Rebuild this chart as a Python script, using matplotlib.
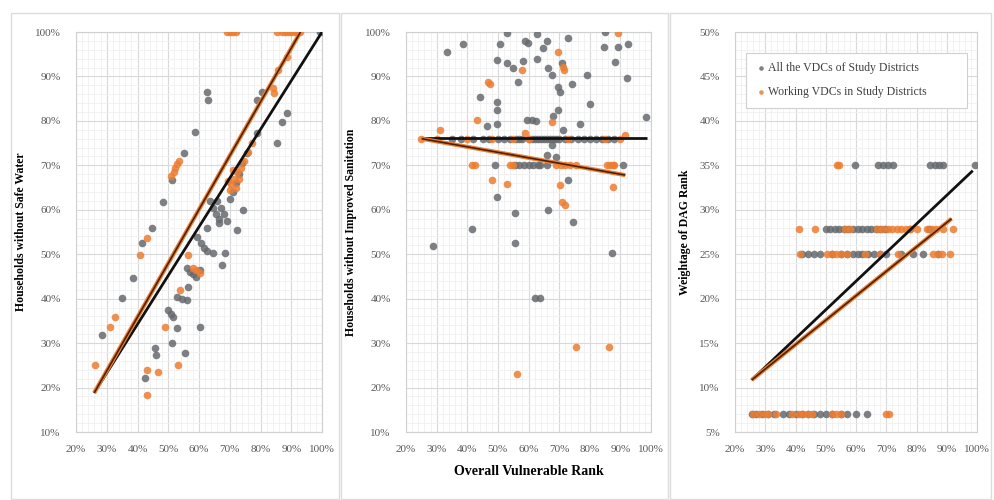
# %% Vulnerability rank vs. water / sanitation / DAG weightage, three Excel-style panels

import numpy as np
import matplotlib.pyplot as plt
import matplotlib as mpl
from matplotlib.ticker import MultipleLocator, PercentFormatter
from matplotlib.patches import Rectangle

# %% Data (values in %)

# Panel 1 - households without safe water
water_all_x = [99.5, 62.7, 62.9, 58.8, 55, 51.3, 48.3, 44.8, 88.7, 87.1, 85.5, 80.6, 79, 79, 75.7, 74, 73, 72, 71, 70,
               66, 67, 68, 69, 66.5, 74.4, 72.4, 63.6, 64.5, 65.5, 66.5, 62.7, 59.4, 60.5, 61.5, 62.5, 64.6, 68.5, 67.6,
               56, 57, 58, 59, 60.4, 56.5, 53, 54.5, 56, 50, 50.8, 51.6, 52.9, 60.4, 51.3, 55.5, 45.7, 46, 42.5,
               28.5, 35, 38.6, 41.5]
water_all_y = [100, 86.5, 84.7, 77.5, 72.8, 66.7, 61.7, 56, 81.8, 79.8, 75, 86.5, 84.7, 77.3, 72.8, 70.5, 68, 66, 64, 62.5,
               62, 60.5, 59, 57.5, 58, 60, 55.4, 62, 60.5, 59, 57, 55.9, 53.9, 52.5, 51.5, 50.8, 50.3, 50.3, 47.6,
               47, 46, 45.5, 44.9, 46.5, 42.6, 40.4, 40, 39.7, 37.4, 36.5, 35.9, 33.4, 33.6, 30, 27.8, 28.9, 27.3, 22.1,
               31.8, 40.1, 44.6, 52.5]
water_work_x = [69, 70, 71, 72, 85.5, 87, 88, 89, 90, 91, 92, 93,
                51, 51.8, 52.3, 53, 53.5, 84, 84.5, 85.8, 88.7, 77.3, 76, 74.5, 73.5, 72.5, 71.5, 70.5, 70, 69.5, 72, 73, 71,
                43.1, 40.8, 32.7, 31.1, 26.2, 43.1, 46.7, 43.1, 53.2, 49, 53.9, 58, 59, 60.4, 56.5]
water_work_y = [100, 100, 100, 100, 100, 100, 100, 100, 100, 100, 100, 100,
                67.5, 68.5, 69.5, 70.2, 71, 87.4, 86.2, 91.4, 94.4, 75, 73, 71, 69.5, 68.5, 67, 65.8, 64.5, 66.5, 65, 67, 69,
                53.6, 49.8, 35.9, 33.6, 25, 24, 23.5, 18.3, 25, 33.6, 42, 47, 46.5, 45.8, 49.8]
water_trend_all = ([25.9, 100], [18.8, 100])
water_trend_work = ([25.9, 93], [18.8, 100])

# Panel 2 - households without improved sanitation
row76_all = [35, 38, 42, 45, 47, 50, 52, 54, 56, 57, 58, 60, 61, 62, 63, 64, 65, 66, 67, 68, 69, 70, 72, 74, 76, 78,
             80, 82, 84, 86, 88]
row70_all = [49.2, 55.6, 57, 58.5, 60, 61.5, 63, 63.8, 66, 91]
san_all_x = [33.3, 38.6, 52.9, 50.7, 58.9, 59.9, 62.7, 66, 64.8, 73, 85, 84.7, 89.3, 92.6, 88.3, 92.1, 98.4,
             49.6, 53, 55, 58.2, 62.7, 56.6, 66.4, 67.7, 70.9, 74.2, 79, 69.7, 70.2, 44.2, 49.6, 49.8, 80.1, 69.7,
             46.4, 49.6, 59.4, 61, 62.5, 68, 76.9, 71.4, 67.6, 66, 69,
             73, 49.6, 66.5, 55.6, 74.6, 41.5, 55.6, 28.7, 87.2, 62.2, 63.8] + row76_all + row70_all
san_all_y = [95.6, 97.3, 99.8, 97.4, 98, 97.6, 99.5, 98, 96.4, 98.6, 100, 96.7, 96.7, 97.3, 93.3, 89.6, 80.9,
             93.7, 93, 92, 93.5, 93.9, 88.8, 91.9, 90.3, 93, 88.3, 90.3, 87.7, 86.6, 85.3, 84.3, 82.5, 83.8, 82.5,
             78.8, 79.4, 80.2, 80.2, 80, 81, 79.4, 78, 74.6, 72.3, 71.9,
             66.7, 62.9, 59.9, 59.2, 57.3, 55.6, 52.6, 51.8, 50.2, 40.1, 40.1] + [76] * len(row76_all) + [70] * len(row70_all)
row76_work = [25, 30, 40, 48, 55, 60, 73, 85, 90]
row70_work = [41.6, 42.6, 54, 55, 69, 70.5, 72, 73.5, 75.6, 85.7, 86.5, 87.6, 88]
san_work_x = [89.3, 69.7, 57.8, 71.3, 71.6, 46.8, 47.5, 43.1, 67.6, 31.1, 58.9, 91.6,
              48, 52.9, 70.3, 87.6, 70.9, 72, 75.6, 86.4, 56.2] + row76_work + row70_work
san_work_y = [99.8, 95.6, 91.5, 92.2, 91.5, 88.8, 88.2, 80.2, 79.8, 78, 77.3, 76.8,
              66.7, 65.8, 65.6, 65.2, 61.8, 61.1, 29.2, 29.2, 23] + [76] * len(row76_work) + [70] * len(row70_work)
san_trend_all = ([25.1, 98.6], [76.1, 76.1])
san_trend_work = ([25.1, 91.6], [76.0, 67.8])

# Panel 3 - weightage of DAG rank (points sit on four levels)
dag_levels = [35, 27.8, 25, 7]
dag_all_rows = [[59.7, 67.3, 69, 70.5, 72.2, 84.5, 86, 87.5, 88.9, 99.3],
                [50, 51.5, 53, 54.5, 56, 57.5, 59, 60.5, 62, 63.5, 65, 66.5, 68, 69.5, 78, 84],
                [42, 44, 46, 48, 52, 55, 57, 59, 60.5, 62, 64, 66, 68, 70, 75, 79, 82, 87],
                [25.5, 27, 29, 31, 33, 36, 38, 40, 42, 44, 46, 48, 50, 52, 55, 57, 60, 63.6]]
dag_work_rows = [[53.6, 54.5],
                 [41.3, 46.4, 56.5, 58, 67, 68.5, 70.6, 72, 73.5, 75, 76.5, 78, 80, 83.5, 85, 86.5, 88.9, 92.1],
                 [41.5, 50.5, 52, 53.5, 55, 57, 63, 68, 74, 85.5, 87, 88.5, 91],
                 [26, 28, 30, 30.8, 33.5, 39, 41, 42.5, 44, 45.5, 52, 53.5, 55, 70, 71]]
dag_trend_all = ([25.5, 98.6], [10.85, 34.4])
dag_trend_work = ([25.5, 91.6], [10.85, 29.0])

series_names = ["All the VDCs of Study Districts", "Working VDCs in Study Districts"]

# %% Styling

grey_col = '#666a6e'
orange_col = '#ed7d31'
grid_col = '#d9d9d9'
mpl.rcParams['font.family'] = ['Liberation Serif', 'DejaVu Serif']

fig = plt.figure(figsize=(9.94, 5.0), dpi=100)
fig.set_facecolor('white')

# Panel frames (each chart is its own Excel chart object)
for x0, x1 in [(11, 339), (341, 668), (670, 991)]:
    fig.patches.append(Rectangle((x0 / 994, 0.002), (x1 - x0) / 994, 0.972, transform=fig.transFigure,
                                 fill=False, edgecolor='#dcdcdc', lw=1))

ax1 = fig.add_axes([76 / 994, 0.136, 246 / 994, 0.8])
ax2 = fig.add_axes([406 / 994, 0.136, 245 / 994, 0.8])
ax3 = fig.add_axes([735 / 994, 0.136, 242 / 994, 0.8])


def style_axis(ax, ylim, ymajor, yminor):
    ax.set_xlim(20, 100)
    ax.set_ylim(*ylim)
    ax.xaxis.set_major_locator(MultipleLocator(10))
    ax.xaxis.set_minor_locator(MultipleLocator(2))
    ax.yaxis.set_major_locator(MultipleLocator(ymajor))
    ax.yaxis.set_minor_locator(MultipleLocator(yminor))
    ax.xaxis.set_major_formatter(PercentFormatter(decimals=0))
    ax.yaxis.set_major_formatter(PercentFormatter(decimals=0))
    ax.grid(which='major', color=grid_col, lw=0.8, zorder=0)
    ax.grid(which='minor', color='#f0f0f0', lw=0.6, zorder=0)
    ax.set_axisbelow(True)
    ax.tick_params(which='both', length=0, labelsize=8, colors='#595959')
    ax.tick_params(axis='y', pad=11)
    ax.tick_params(axis='x', pad=9)
    for s in ax.spines.values():
        s.set_color('#d0d0d0')
        s.set_linewidth(0.8)


def draw_trend(ax, trend, kind):
    if kind == 'all':
        ax.plot(trend[0], trend[1], color='#111111', lw=2, zorder=5, solid_capstyle='butt')
    else:
        ax.plot(trend[0], trend[1], color=orange_col, lw=3, zorder=6, solid_capstyle='butt')
        ax.plot(trend[0], trend[1], color='#4a2208', lw=1.2, zorder=7, solid_capstyle='butt')


sc_kw = dict(s=30, linewidths=0, alpha=0.85, zorder=3)

# %% Panel 1

ax1.scatter(water_all_x, water_all_y, color=grey_col, **sc_kw)
ax1.scatter(water_work_x, water_work_y, color=orange_col, **sc_kw)
draw_trend(ax1, water_trend_all, 'all')
draw_trend(ax1, water_trend_work, 'work')
style_axis(ax1, (10, 100), 10, 2)
ax1.set_ylabel("Households without Safe Water", fontsize=8.5, fontweight='bold', labelpad=6)

# %% Panel 2

ax2.scatter(san_all_x, san_all_y, color=grey_col, **sc_kw)
ax2.scatter(san_work_x, san_work_y, color=orange_col, **sc_kw)
draw_trend(ax2, san_trend_all, 'all')
draw_trend(ax2, san_trend_work, 'work')
style_axis(ax2, (10, 100), 10, 2)
ax2.set_ylabel("Households without Improved Sanitation", fontsize=8.5, fontweight='bold', labelpad=6)
ax2.set_xlabel("Overall Vulnerable Rank", fontsize=10, fontweight='bold', labelpad=8)

# %% Panel 3

dag_all_x = [x for row in dag_all_rows for x in row]
dag_all_y = [lvl for lvl, row in zip(dag_levels, dag_all_rows) for _ in row]
dag_work_x = [x for row in dag_work_rows for x in row]
dag_work_y = [lvl for lvl, row in zip(dag_levels, dag_work_rows) for _ in row]

ax3.scatter(dag_all_x, dag_all_y, color=grey_col, label=series_names[0], **sc_kw)
ax3.scatter(dag_work_x, dag_work_y, color=orange_col, label=series_names[1], **sc_kw)
draw_trend(ax3, dag_trend_all, 'all')
draw_trend(ax3, dag_trend_work, 'work')
style_axis(ax3, (5, 50), 5, 1)
ax3.set_ylabel("Weightage of DAG Rank", fontsize=8.5, fontweight='bold', labelpad=6)

leg = ax3.legend(loc='upper left', bbox_to_anchor=(0.02, 0.8225, 0.965, 0.14), mode='expand', fontsize=8.5,
                 handletextpad=0.1, handlelength=1.0, labelspacing=1.0, borderpad=0.8, markerscale=0.6,
                 fancybox=False, framealpha=1, edgecolor='#d0d0d0')
leg.get_frame().set_linewidth(0.8)
for t in leg.get_texts():
    t.set_color('#404040')

fig.savefig("out.png", dpi=100)
